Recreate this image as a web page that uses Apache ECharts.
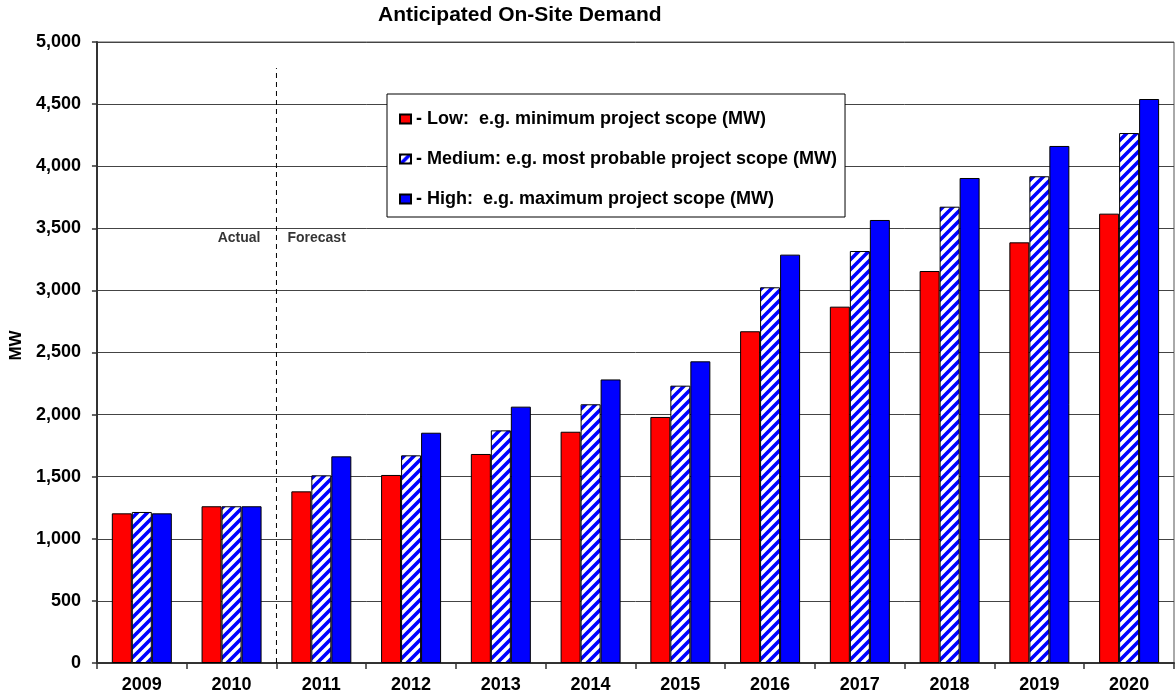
<!DOCTYPE html>
<html>
<head>
<meta charset="utf-8">
<script src="https://cdn.jsdelivr.net/npm/echarts@6/dist/echarts.min.js"></script>
<style>
  html, body { margin: 0; padding: 0; background: #fff; }
  #chart { width: 1176px; height: 699px; }
</style>
</head>
<body>
<div id="chart"></div>
<script>
// Years on the category axis
const years = ['2009', '2010', '2011', '2012', '2013', '2014', '2015', '2016', '2017', '2018', '2019', '2020'];

// Anticipated on-site demand, MW
const lowMW    = [1205, 1262, 1382, 1514, 1683, 1862, 1981, 2671, 2869, 3156, 3387, 3618];
const mediumMW = [1216, 1262, 1511, 1672, 1873, 2083, 2233, 3025, 3317, 3674, 3919, 4267];
const highMW   = [1205, 1262, 1664, 1854, 2064, 2283, 2429, 3288, 3567, 3905, 4163, 4541];

// Series names and legend wording
const seriesNames = ['Low', 'Medium', 'High'];
const legendText = {
  Low: '- Low:  e.g. minimum project scope (MW)',
  Medium: '- Medium: e.g. most probable project scope (MW)',
  High: '- High:  e.g. maximum project scope (MW)'
};

// Actual / forecast divider: boundary index on the year axis, top of the dashed line, label height
const dividerIndex = 2;
const dividerTop = 4790;
const dividerLabelY = 3420;

const FONT = '"Liberation Sans", Arial, sans-serif';

// Diagonal blue-on-white hatch for the medium scenario
function makeHatch() {
  const s = 10;
  const c = document.createElement('canvas');
  c.width = s; c.height = s;
  const g = c.getContext('2d');
  g.fillStyle = '#ffffff';
  g.fillRect(0, 0, s, s);
  g.strokeStyle = '#0000ff';
  g.lineWidth = 3.6;
  g.beginPath();
  for (let k = -1; k <= 1; k++) {
    g.moveTo(k * s - 1, s + 1);
    g.lineTo(k * s + s + 1, -1);
  }
  g.stroke();
  return c;
}

const chart = echarts.init(document.getElementById('chart'), null, { renderer: 'canvas' });

const barBase = {
  type: 'bar',
  barWidth: 20,
  barGap: '0%',
  xAxisIndex: 0,
  yAxisIndex: 0
};

chart.setOption({
  animation: false,
  backgroundColor: '#ffffff',
  textStyle: { fontFamily: FONT },
  title: {
    text: 'Anticipated On-Site Demand',
    left: 378,
    top: 5,
    padding: 0,
    textStyle: { fontFamily: FONT, fontSize: 21, fontWeight: 'bold', color: '#000' }
  },
  legend: {
    data: seriesNames,
    orient: 'vertical',
    left: 387,
    top: 94,
    padding: [15, 8, 8, 12],
    itemGap: 20,
    itemWidth: 11,
    itemHeight: 9,
    icon: 'rect',
    backgroundColor: '#ffffff',
    borderColor: '#000000',
    borderWidth: 1,
    selectedMode: false,
    formatter: name => legendText[name],
    textStyle: { fontFamily: FONT, fontSize: 18, fontWeight: 'bold', color: '#000', lineHeight: 20 }
  },
  grid: {
    left: 96,
    right: 2,
    top: 42,
    bottom: 36,
    show: true,
    borderColor: '#555',
    borderWidth: 1,
    containLabel: false
  },
  xAxis: [
    {
      type: 'category',
      data: years,
      axisLine: { lineStyle: { color: '#333', width: 2 } },
      axisTick: { show: true, length: 6, lineStyle: { color: '#333', width: 1.5 } },
      axisLabel: { margin: 13, fontFamily: FONT, fontSize: 18, fontWeight: 'bold', color: '#000' },
      splitLine: { show: false }
    },
    {
      // hidden linear twin of the year axis, used to place the divider between categories
      type: 'value',
      min: 0,
      max: years.length,
      show: false
    }
  ],
  yAxis: {
    type: 'value',
    min: 0,
    max: 5000,
    interval: 500,
    name: 'MW',
    nameLocation: 'middle',
    nameGap: 70,
    nameTextStyle: { fontFamily: FONT, fontSize: 17, fontWeight: 'bold', color: '#000', padding: [0, 0, 0, 14] },
    axisLine: { show: true, lineStyle: { color: '#333', width: 2 } },
    axisTick: { show: true, length: 5, lineStyle: { color: '#333', width: 1.5 } },
    axisLabel: {
      margin: 16,
      fontFamily: FONT,
      fontSize: 18,
      fontWeight: 'bold',
      color: '#000',
      formatter: v => v.toLocaleString('en-US')
    },
    splitLine: { show: true, lineStyle: { color: '#444', width: 1 } }
  },
  series: [
    Object.assign({}, barBase, {
      name: 'Low',
      data: lowMW,
      itemStyle: { color: '#ff0000', borderColor: '#000', borderWidth: 1 }
    }),
    Object.assign({}, barBase, {
      name: 'Medium',
      data: mediumMW,
      itemStyle: { color: { image: makeHatch(), repeat: 'repeat' }, borderColor: '#000', borderWidth: 1 }
    }),
    Object.assign({}, barBase, {
      name: 'High',
      data: highMW,
      itemStyle: { color: '#0000ff', borderColor: '#000', borderWidth: 1 }
    }),
    {
      type: 'line',
      name: 'divider',
      xAxisIndex: 1,
      yAxisIndex: 0,
      data: [[dividerIndex, 0], [dividerIndex, dividerTop]],
      symbol: 'none',
      silent: true,
      z: 1,
      lineStyle: { color: '#000', width: 1, type: [5, 4] }
    },
    {
      type: 'scatter',
      name: 'dividerLabels',
      xAxisIndex: 1,
      yAxisIndex: 0,
      symbolSize: 0,
      silent: true,
      data: [
        { value: [dividerIndex, dividerLabelY], label: { show: true, formatter: 'Actual', position: 'left', distance: 16 } },
        { value: [dividerIndex, dividerLabelY], label: { show: true, formatter: 'Forecast', position: 'right', distance: 11 } }
      ],
      label: { fontFamily: FONT, fontSize: 14, fontWeight: 'bold', color: '#000' }
    }
  ]
});
</script>
</body>
</html>
